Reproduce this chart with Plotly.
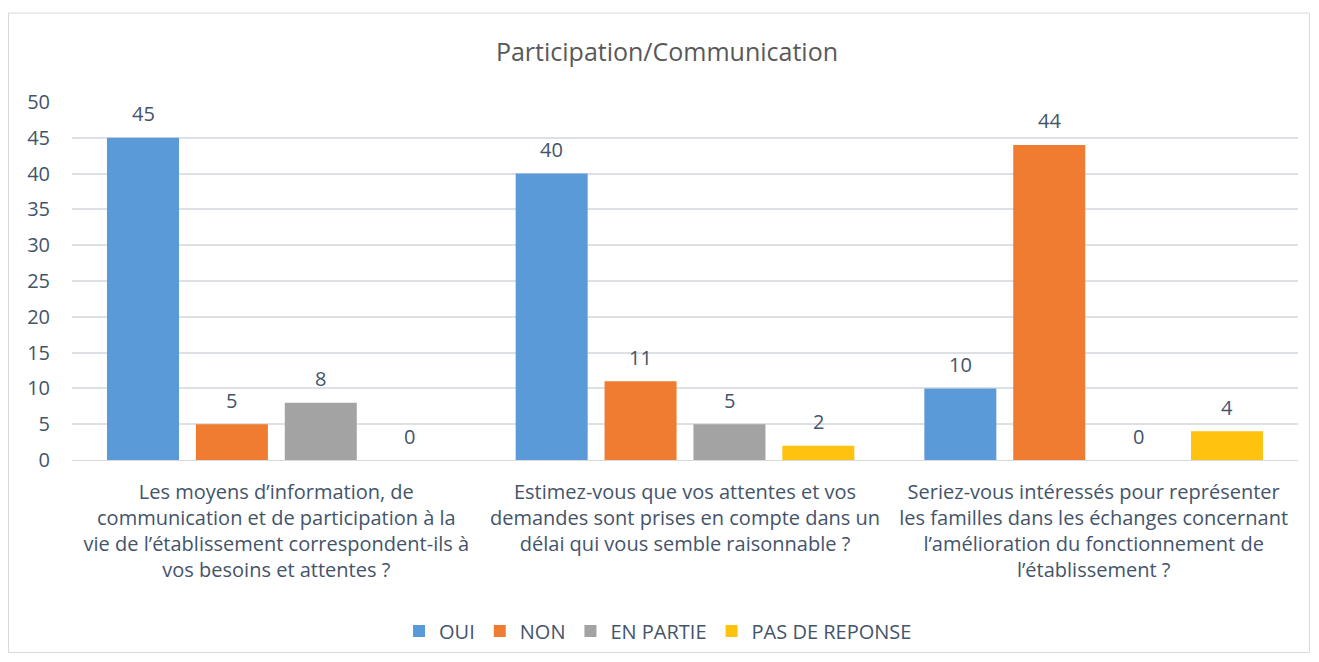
import plotly.graph_objects as go

categories = [
    "Les moyens d’information, de<br>communication et de participation à la<br>vie de l’établissement correspondent-ils à<br>vos besoins et attentes ?",
    "Estimez-vous que vos attentes et vos<br>demandes sont prises en compte dans un<br>délai qui vous semble raisonnable ?",
    "Seriez-vous intéressés pour représenter<br>les familles dans les échanges concernant<br>l’amélioration du fonctionnement de<br>l’établissement ?",
]
series_names = ["OUI", "NON", "EN PARTIE", "PAS DE REPONSE"]
oui = [45, 40, 10]
non = [5, 11, 44]
en_partie = [8, 5, 0]
pas_de_reponse = [0, 2, 4]
y_ticks = [0, 5, 10, 15, 20, 25, 30, 35, 40, 45, 50]

colors = ["#5a9ad8", "#ef7c30", "#a3a3a3", "#ffc20e"]
values = [oui, non, en_partie, pas_de_reponse]

txt = "#44546a"
font = "Open Sans, Noto Sans, sans-serif"

W, H = 1303, 646
L, R, T, B = 64, 13, 94, 194
pw = W - L - R
ph = H - T - B
slot_px = pw / 3 * (1 - 0.13) / 4

fig = go.Figure()
for i, (name, vals, col) in enumerate(zip(series_names, values, colors)):
    fig.add_trace(go.Bar(
        x=categories, y=vals, name=name,
        marker=dict(color=col, line=dict(width=0)),
        cliponaxis=False,
    ))
    for c, v in zip(categories, vals):
        fig.add_annotation(x=c, y=v, xref="x", yref="y", text=str(v),
                           showarrow=False, xshift=(i - 1.5) * slot_px, yshift=24,
                           yanchor="middle",
                           font=dict(size=20, color=txt, family=font))

fig.add_shape(type="rect", xref="paper", yref="paper",
              x0=(0.5 - L) / pw, x1=(W - 1.5 - L) / pw,
              y0=(H - B - (H - 1.5)) / ph, y1=(H - B - 5) / ph,
              line=dict(color="#d9d9d9", width=1), layer="below")

fig.update_layout(
    width=W, height=H, autosize=False,
    margin=dict(l=L, r=R, t=T, b=B, autoexpand=False),
    paper_bgcolor="white", plot_bgcolor="white",
    barmode="group", bargap=0.13, bargroupgap=0.19,
    title=dict(text="Participation/Communication", x=659 / W, xanchor="center",
               y=1 - 44 / H, yanchor="middle",
               font=dict(size=25, color="#595959", family=font)),
    font=dict(family=font, color=txt),
    legend=dict(orientation="h", x=0.478, xanchor="center",
                y=(H - B - 623) / ph, yanchor="middle",
                font=dict(size=20, color=txt, family=font),
                traceorder="normal"),
    showlegend=True,
)
fig.update_xaxes(showline=True, linecolor="#d9d9d9", tickfont=dict(size=20, color=txt),
                 ticks="", showgrid=False, tickangle=0, automargin=False,
                 ticklabelstandoff=14)
fig.update_yaxes(range=[0, 50], tickvals=y_ticks, showgrid=True, gridcolor="#dde0e5",
                 gridwidth=1.5, zeroline=False, tickfont=dict(size=20, color=txt),
                 ticklabelstandoff=21, showline=False, automargin=False)

fig.write_html("out.html")
